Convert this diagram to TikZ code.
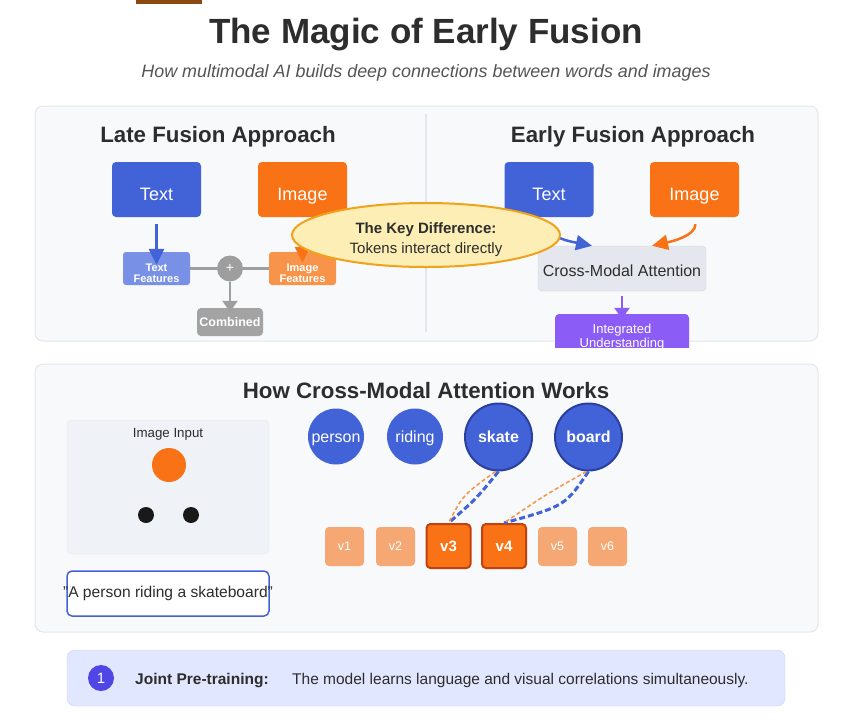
\documentclass[tikz,border=0pt]{standalone}
\usepackage{fontspec}
\setmainfont{Liberation Sans}
\usetikzlibrary{arrows.meta,shapes.geometric}

\definecolor{inkdark}{HTML}{2D2D2D}
\definecolor{inkgray}{HTML}{555555}
\definecolor{panelbg}{HTML}{F8F9FB}
\definecolor{panelline}{HTML}{E3E6EA}
\definecolor{tokblue}{HTML}{4263D8}
\definecolor{tokdark}{HTML}{2A3F9E}
\definecolor{featblue}{HTML}{7891E6}
\definecolor{fusorange}{HTML}{F97316}
\definecolor{featorange}{HTML}{F8934A}
\definecolor{patchlight}{HTML}{F5A874}
\definecolor{patchdark}{HTML}{C2410C}
\definecolor{plusgray}{HTML}{9E9E9E}
\definecolor{combgray}{HTML}{A3A3A3}
\definecolor{keyfill}{HTML}{FDEEB5}
\definecolor{keyline}{HTML}{EFA31A}
\definecolor{cmafill}{HTML}{E4E8EE}
\definecolor{cmaline}{HTML}{CDD3DB}
\definecolor{violet}{HTML}{8B5CF6}
\definecolor{imgbg}{HTML}{EFF2F7}
\definecolor{stripbg}{HTML}{E0E7FF}
\definecolor{stripline}{HTML}{C7D2FE}
\definecolor{stepind}{HTML}{4F46E5}
\definecolor{brownbar}{HTML}{8B4A12}

\newcommand{\fsz}[2]{\fontsize{#1}{#2}\selectfont}

\begin{document}
\begin{tikzpicture}[x=1pt,y=-1pt]
  \tikzset{
    panel/.style={draw=panelline, fill=panelbg, rounded corners=8pt, line width=1pt},
    lbl/.style={inner sep=0pt, text=inkdark},
    head/.style={lbl, anchor=base, font=\bfseries\fsz{22.3}{25}},
    srcbox/.style={rectangle, rounded corners=4pt, minimum width=89pt, minimum height=55pt, inner sep=0pt, text height=21pt, text depth=0pt, text=white, font=\fsz{18}{20}},
    featbox/.style={rectangle, rounded corners=3pt, minimum width=67pt, minimum height=33pt, inner sep=0pt},
    featlbl/.style={lbl, text=white, align=center, font=\bfseries\fsz{11}{11}},
    token/.style={circle, fill=tokblue, text=white, minimum size=56pt, inner sep=0pt, text height=11pt, text depth=0pt, font=\fsz{16}{18}},
    keytok/.style={token, minimum size=67pt, draw=tokdark, line width=2pt, font=\bfseries\fsz{16}{18}},
    patch/.style={rectangle, rounded corners=4pt, fill=patchlight, minimum size=39pt, inner sep=0pt, text=white, font=\fsz{12.5}{14}},
    keypatch/.style={patch, fill=fusorange, draw=patchdark, line width=2pt, minimum size=44pt, font=\bfseries\fsz{15}{16}},
    arr/.style={-{Triangle[length=16pt,width=15pt]}, line width=2.5pt},
    garr/.style={-{Triangle[length=11pt,width=15pt]}, line width=2.5pt},
    gline/.style={plusgray, line width=3pt},
    bline/.style={tokblue, line width=3pt, dash pattern=on 6pt off 3pt},
    oline/.style={featorange, line width=1.5pt, dash pattern=on 4pt off 2.5pt}
  }
  \useasboundingbox (0,0) rectangle (852,721);
  \fill[white] (0,0) rectangle (852,721);
  \fill[brownbar] (136,0) rectangle (202,4);

  % title
  \node[lbl, anchor=base, font=\bfseries\fsz{35}{40}] (title) at (426,43) {The Magic of Early Fusion};
  \node[lbl, anchor=base, text=inkgray, font=\itshape\fsz{17.9}{20}] (subtitle) at (426,77) {How multimodal AI builds deep connections between words and images};

  % late vs early
  \draw[panel] (35,106) rectangle (818,341);
  \draw[panelline, line width=1.5pt] (426,114) -- (426,332);
  \node[head] (latehead) at (218,142) {Late Fusion Approach};
  \node[head] (earlyhead) at (633,142) {Early Fusion Approach};

  \node[srcbox, fill=tokblue] (txtL) at (156.5,189.5) {Text};
  \node[srcbox, fill=fusorange] (imgL) at (302.5,189.5) {Image};
  \node[featbox, fill=featblue] (tfeat) at (156.5,268.5) {};
  \node[featbox, fill=featorange] (ifeat) at (302.5,268.5) {};
  \node[circle, fill=plusgray, minimum size=26pt, inner sep=0pt, text=white, font=\fsz{14}{14}] (plus) at (230,268.5) {+};
  \node[rectangle, rounded corners=4pt, fill=combgray, minimum width=66pt, minimum height=28pt, inner sep=0pt, text=white, font=\bfseries\fsz{12.5}{14}] (comb) at (230,322) {Combined};
  \draw[gline] (tfeat.east) -- (plus.west);
  \draw[gline] (plus.east) -- (ifeat.west);
  \draw[garr, plusgray] (plus.south) -- ([yshift=-4pt]comb.north);
  \draw[arr, tokblue] ([yshift=-7pt]txtL.south) -- ([yshift=-13pt]tfeat.north);
  \draw[arr, fusorange] ([yshift=-7pt]imgL.south) -- ([yshift=-11pt]ifeat.north);
  \node[featlbl] (tfeatlbl) at ([yshift=-5pt]tfeat.center) {Text\\Features};
  \node[featlbl] (ifeatlbl) at ([yshift=-5pt]ifeat.center) {Image\\Features};

  \node[srcbox, fill=tokblue] (txtE) at (549,189.5) {Text};
  \node[srcbox, fill=fusorange] (imgE) at (694.5,189.5) {Image};
  \node[rectangle, rounded corners=4pt, draw=cmaline, fill=cmafill, minimum width=168pt, minimum height=45pt, inner sep=0pt, text height=16pt, text depth=0pt, text=inkdark, font=\fsz{16}{18}] (cma) at (622,268.5) {Cross-Modal Attention};
  \draw[arr, tokblue] ([xshift=-5pt,yshift=-7pt]txtE.south) .. controls +(5,14) and +(-20,-4) .. ([xshift=-30pt]cma.north);
  \draw[arr, fusorange] ([xshift=1pt,yshift=-7pt]imgE.south) .. controls +(0,12) and +(18,-4) .. ([xshift=30pt]cma.north);
  \begin{scope}
    \clip (0,0) rectangle (852,347);
    \node[rectangle, rounded corners=4pt, fill=violet, minimum width=134pt, minimum height=40pt, inner sep=0pt, text=white, align=center, font=\fsz{13}{14}] (integ) at (622,334) {};
    \node[lbl, text=white, align=center, font=\fsz{13}{14}] (integlbl) at ([yshift=-3pt]integ.center) {Integrated\\Understanding};
  \end{scope}
  \draw[garr, violet] ([yshift=-5pt]cma.south) -- ([yshift=-5pt]integ.north);

  \node[ellipse, draw=keyline, fill=keyfill, line width=2pt, minimum width=268pt, minimum height=64pt, inner sep=0pt] (keydiff) at (426,235) {};
  \node[lbl, anchor=base, font=\bfseries\fsz{15}{18}] (keytitle) at (426,233) {The Key Difference:};
  \node[lbl, anchor=base, font=\fsz{15}{18}] (keytext) at (426,253) {Tokens interact directly};

  % cross-modal attention
  \draw[panel] (35,364) rectangle (818,632);
  \node[head] (attnhead) at (426,398) {How Cross-Modal Attention Works};

  \draw[draw=panelline, fill=imgbg, rounded corners=5pt] (67,420) rectangle (269,554);
  \node[lbl, anchor=base, font=\fsz{13.3}{15}] (imglabel) at (168,437) {Image Input};
  \fill[fusorange] (169,465) circle (17);
  \fill[black!90] (146,515) circle (8);
  \fill[black!90] (191,515) circle (8);
  \node[rectangle, rounded corners=5pt, draw=tokblue, line width=1.5pt, fill=white, minimum width=202pt, minimum height=45pt, inner sep=0pt] (capbox) at (168,593.5) {};
  \node[lbl, font=\fsz{15.6}{18}] (caption) at (168,593) {"A person riding a skateboard"};

  \node[token] (person) at (336,436.5) {person};
  \node[token] (riding) at (415,436.5) {riding};
  \node[keytok] (skate) at (498.5,437) {skate};
  \node[keytok] (board) at (588.5,437) {board};

  \node[patch] (v1) at (344.5,546.5) {v1};
  \node[patch] (v2) at (395.5,546.5) {v2};
  \node[keypatch] (v3) at (448.5,546) {v3};
  \node[keypatch] (v4) at (504,546) {v4};
  \node[patch] (v5) at (557.5,546.5) {v5};
  \node[patch] (v6) at (607.5,546.5) {v6};

  \draw[bline] (skate.south) .. controls (476,499) .. (v3.north);
  \draw[oline] ([xshift=-3pt]skate.south) .. controls (463,495) .. (v3.north);
  \draw[bline] (board.south) .. controls (565,506) .. (v4.north);
  \draw[oline] ([xshift=-2pt]board.south) .. controls (545,495) .. (v4.north);

  % step strip
  \draw[draw=stripline, fill=stripbg, rounded corners=8pt] (67,650) rectangle (785,706);
  \node[circle, fill=stepind, minimum size=26pt, inner sep=0pt, text=white, font=\fsz{15}{16}] (step1) at (101,678) {1};
  \node[lbl, anchor=base west, font=\bfseries\fsz{15.5}{18}] (steplabel) at (135,684) {Joint Pre-training:};
  \node[lbl, anchor=base west, font=\fsz{15.5}{18}] (steptext) at (292,684) {The model learns language and visual correlations simultaneously.};
\end{tikzpicture}
\end{document}
